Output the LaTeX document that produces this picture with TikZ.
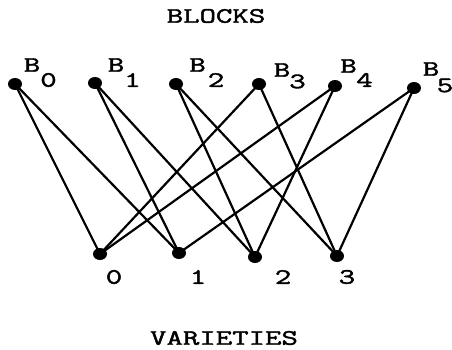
\documentclass[tikz,border=0pt]{standalone}
\usepackage{fontspec}
\usepackage{graphicx}
\usetikzlibrary{shapes.geometric}
\newfontfamily\twfont{Latin Modern Mono}[FakeBold=1.6]
\newcommand\tw[1]{\scalebox{1.45}[1]{#1}}
\begin{document}
\begin{tikzpicture}[x=1pt,y=-1pt,
  vdot/.style={ellipse,fill=black,inner sep=0pt,minimum width=14pt,minimum height=12pt},
  lbl/.style={inner sep=0pt,font=\twfont\fontsize{22}{22}\selectfont},
  edge/.style={line width=2.2pt}]
\useasboundingbox (0,0) rectangle (452,350);
% block dots
\node[vdot] (b0) at (15,84) {};
\node[vdot] (b1) at (95,83) {};
\node[vdot] (b2) at (176,84) {};
\node[vdot] (b3) at (259,84) {};
\node[vdot] (b4) at (335,86) {};
\node[vdot] (b5) at (414,88) {};
% variety dots
\node[vdot] (v0) at (100,254) {};
\node[vdot] (v1) at (179,253) {};
\node[vdot] (v2) at (255,257) {};
\node[vdot] (v3) at (337,256) {};
% edges
\draw[edge] (b0.center) -- (v0.center);
\draw[edge] (b0.center) -- (v1.center);
\draw[edge] (b1.center) -- (v1.center);
\draw[edge] (b1.center) -- (v2.center);
\draw[edge] (b2.center) -- (v2.center);
\draw[edge] (b2.center) -- (v3.center);
\draw[edge] (b3.center) -- (v0.center);
\draw[edge] (b3.center) -- (v3.center);
\draw[edge] (b4.center) -- (v0.center);
\draw[edge] (b4.center) -- (v2.center);
\draw[edge] (b5.center) -- (v1.center);
\draw[edge] (b5.center) -- (v3.center);
% block labels
\node[lbl] (lb0) at (32,65) {\tw{B}};   \node[lbl] (ls0) at (48.5,80) {\tw{0}};
\node[lbl] (lb1) at (116,65) {\tw{B}};  \node[lbl] (ls1) at (132.5,80) {\tw{1}};
\node[lbl] (lb2) at (197.5,65) {\tw{B}};\node[lbl] (ls2) at (216,80) {\tw{2}};
\node[lbl] (lb3) at (282,70) {\tw{B}};  \node[lbl] (ls3) at (297.5,81.5) {\tw{3}};
\node[lbl] (lb4) at (348.5,66) {\tw{B}};\node[lbl] (ls4) at (364.5,80) {\tw{4}};
\node[lbl] (lb5) at (431,69) {\tw{B}};  \node[lbl] (ls5) at (445,85.5) {\tw{5}};
% variety labels
\node[lbl] (lv0) at (114,277) {\tw{0}};
\node[lbl] (lv1) at (198,277) {\tw{1}};
\node[lbl] (lv2) at (283,277) {\tw{2}};
\node[lbl] (lv3) at (347,277) {\tw{3}};
% titles
\node[lbl] (blocks) at (216,16) {\tw{BLOCKS}};
\node[lbl] (varieties) at (224,338) {\tw{VARIETIES}};
\end{tikzpicture}
\end{document}
